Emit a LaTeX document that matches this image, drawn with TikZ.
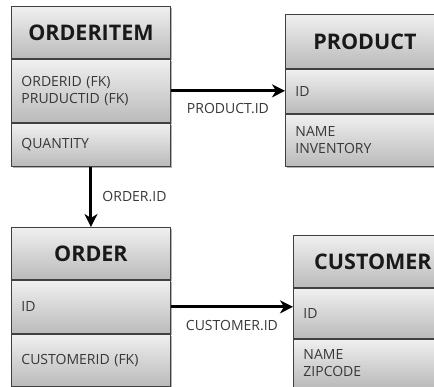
\documentclass[tikz,border=0pt]{standalone}
\usepackage{fontspec}
\setmainfont{Open Sans}
\usetikzlibrary{positioning,shadows,arrows.meta}

\begin{document}
\begin{tikzpicture}[x=1pt, y=-1pt,
    entity/.style={draw=black!75, line width=0.9pt, top color=black!6, bottom color=black!27,
        drop shadow={shadow xshift=2pt, shadow yshift=-2pt, opacity=0.3, fill=black}},
    tablehead/.style={entity, minimum width=159pt, inner sep=0pt, text=black!90,
        font=\fontsize{21.5}{25}\selectfont\bfseries},
    tablerow/.style={entity, text width=139pt, inner xsep=10pt, inner ysep=0pt, align=left,
        text=black!78, font=\fontsize{14}{16.5}\selectfont},
    link/.style={line width=3pt, -{Stealth[length=13pt, width=13pt, inset=4pt]}},
    linklabel/.style={font=\fontsize{14}{16}\selectfont, text=black!78, inner sep=3pt}]
    \useasboundingbox (0, 0) rectangle (434, 387);
    \clip (0, 0) rectangle (434, 387);
    % ORDERITEM
    \node[tablehead, minimum height=52pt, anchor=north west] (oihead) at (11, 6) {ORDERITEM};
    \node[tablerow, minimum height=63pt, below=0pt of oihead] (oikeys) {ORDERID (FK)\\PRUDUCTID (FK)};
    \node[tablerow, minimum height=43pt, below=0pt of oikeys] (oiqty) {QUANTITY};
    % PRODUCT
    \node[tablehead, minimum height=54pt, anchor=north west] (prhead) at (285, 14) {PRODUCT};
    \node[tablerow, minimum height=44pt, below=0pt of prhead] (prid) {ID};
    \node[tablerow, minimum height=52pt, below=0pt of prid] (prattr) {NAME\\INVENTORY};
    % ORDER
    \node[tablehead, minimum height=52pt, anchor=north west] (ordhead) at (11, 227) {ORDER};
    \node[tablerow, minimum height=53pt, below=0pt of ordhead] (ordid) {ID};
    \node[tablerow, minimum height=52pt, below=0pt of ordid] (ordcust) {CUSTOMERID (FK)};
    % CUSTOMER
    \node[tablehead, minimum height=52pt, anchor=north west] (cuhead) at (293, 235) {CUSTOMER};
    \node[tablerow, minimum height=50pt, below=0pt of cuhead] (cuid) {ID};
    \node[tablerow, minimum height=48pt, below=0pt of cuid] (cuattr) {NAME\\ZIPCODE};
    % keys
    \draw[link] (oikeys.east) -- (oikeys.east -| prid.west)
        node[linklabel, below, midway, yshift=-8pt] {PRODUCT.ID};
    \draw[link] (oiqty.south) -- (ordhead.north)
        node[linklabel, right, midway, xshift=7pt] {ORDER.ID};
    \draw[link] (ordid.east) -- (ordid.east -| cuid.west)
        node[linklabel, below, midway, yshift=-9pt] {CUSTOMER.ID};
\end{tikzpicture}
\end{document}
